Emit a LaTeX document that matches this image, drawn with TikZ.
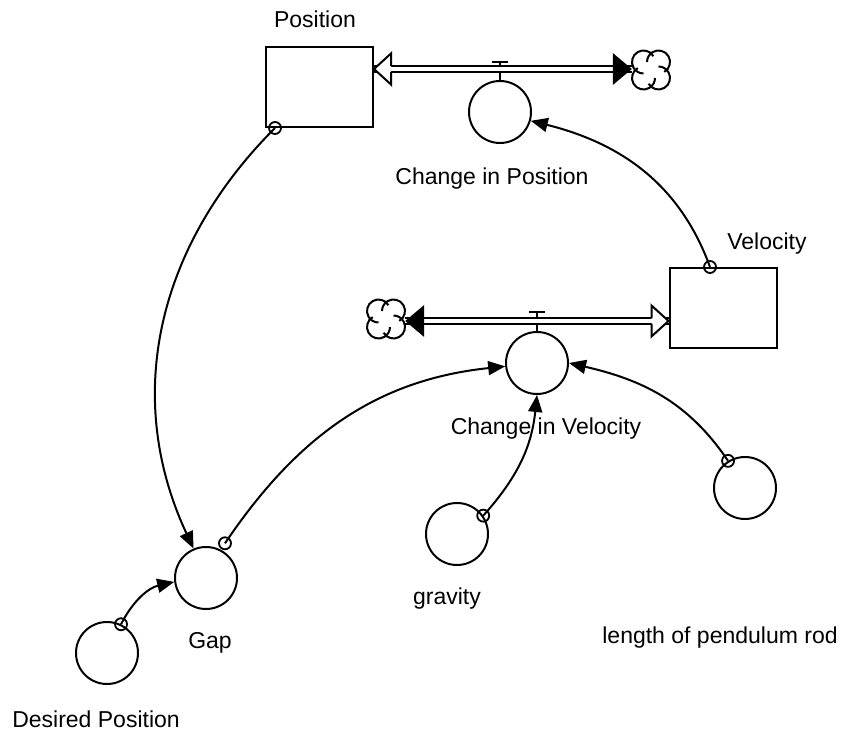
\documentclass[tikz,border=0pt]{standalone}
\usepackage{fontspec}
\setmainfont{Liberation Sans}
\usetikzlibrary{arrows.meta}

\tikzset{
  puff/.pic={
    \foreach \a/\cx/\cy [evaluate=\a as \s using \a-105, evaluate=\a as \e using \a+135]
      in {45/7.5/8,135/-7.5/8,225/-7.5/-8,315/7.5/-8}
      \draw[line width=2pt] (\cx,\cy) ++(\s:11.5) arc[start angle=\s, end angle=\e, radius=11.5];
  },
  solidtip/.pic={\fill (0,0) -- (-19,16) -- (-19,-16) -- cycle;},
  opentip/.pic={
    \fill[white] (0,0) -- (-17,15.5) -- (-17,-15.5) -- cycle;
    \draw[line width=2pt] (-17,2.8) -- (-17,15.5) -- (0,0) -- (-17,-15.5) -- (-17,-2.8);
  }
}

\begin{document}
\begin{tikzpicture}[x=1pt,y=1pt,
  every node/.style={font=\fontsize{23}{27}\selectfont},
  stock/.style={rectangle,draw,line width=2pt,minimum width=107pt,minimum height=80pt,inner sep=0pt},
  aux/.style={circle,draw,line width=2pt,minimum size=62pt,inner sep=0pt},
  sink/.style={minimum width=38pt,minimum height=40pt,inner sep=0pt},
  varname/.style={anchor=base,inner sep=0pt},
  pipe/.style={double,double distance=3.6pt,line width=2pt},
  stem/.style={line width=2pt},
  link/.style={line width=2pt,-{Triangle[length=17pt,width=14pt]}},
  tail/.style={line width=1.8pt}]

\useasboundingbox (0,0) rectangle (858,731);

% stocks, rates and auxiliaries
\node (Position) at (319.5,644) [stock] {};
\node (Velocity) at (723,423) [stock] {};
\node (ChPos) at (500,619) [aux] {};
\node (ChVel) at (537,368) [aux] {};
\node (Gap) at (206,153) [aux] {};
\node (Desired) at (107,78) [aux] {};
\node (Gravity) at (457,197) [aux] {};
\node (Rod) at (745,243) [aux] {};
\node (SinkPos) at (651,661) [sink] {};
\node (SourceVel) at (386,412) [sink] {};

% names
\node (PositionName) at (315,703) [varname] {Position};
\node (ChPosName) at (492,546) [varname] {Change in Position};
\node (VelocityName) at (767,481) [varname] {Velocity};
\node (ChVelName) at (546,296) [varname] {Change in Velocity};
\node (GravityName) at (447,127) [varname] {gravity};
\node (GapName) at (210,83) [varname] {Gap};
\node (DesiredName) at (96,4) [varname] {Desired Position};
\node (RodName) at (720,88) [varname] {length of pendulum rod};

% flows
\coordinate (PosValve) at (500,669);
\coordinate (PosPipe) at (500,662);
\coordinate (VelValve) at (537,419);
\coordinate (VelPipe) at (537,410);

\draw[stem] (ChPos.north) -- (PosValve) ([xshift=-8pt]PosValve) -- ([xshift=8pt]PosValve);
\draw[stem] (ChVel.north) -- (VelValve) ([xshift=-8pt]VelValve) -- ([xshift=8pt]VelValve);

\draw[pipe] (Position.east |- PosPipe) -- (SinkPos.west |- PosPipe);
\draw[pipe] (SourceVel.east |- VelPipe) -- (Velocity.west |- VelPipe);

\pic[rotate=180] at (Position.east |- PosPipe) {opentip};
\pic at (SinkPos.west |- PosPipe) {solidtip};
\pic at (SinkPos) {puff};
\pic at (Velocity.west |- VelPipe) {opentip};
\pic[rotate=180] at (SourceVel.east |- VelPipe) {solidtip};
\pic at (SourceVel) {puff};

% connectors
\draw[link] ([xshift=-13pt]Velocity.north) to[out=110,in=-14] (ChPos.-16);
\draw[tail] ([xshift=-13pt]Velocity.north) circle[radius=6];

\draw[link] (Rod.122) to[out=124,in=-13] (ChVel.east);
\draw[tail] (Rod.122) circle[radius=6];

\draw[link] (Gravity.35) to[out=48,in=-96] (ChVel.south);
\draw[tail] (Gravity.35) circle[radius=6];

\draw[link] ([xshift=3pt,yshift=7pt]Gap.60) to[out=56,in=186] (ChVel.186);
\draw[tail] ([xshift=3pt,yshift=7pt]Gap.60) circle[radius=6];

\draw[link] ([xshift=10pt]Position.south west) to[out=225,in=115] (Gap.113);
\draw[tail] ([xshift=10pt]Position.south west) circle[radius=6];

\draw[link] (Desired.64) to[out=63,in=193] (Gap.187);
\draw[tail] (Desired.64) circle[radius=6];

\end{tikzpicture}
\end{document}
